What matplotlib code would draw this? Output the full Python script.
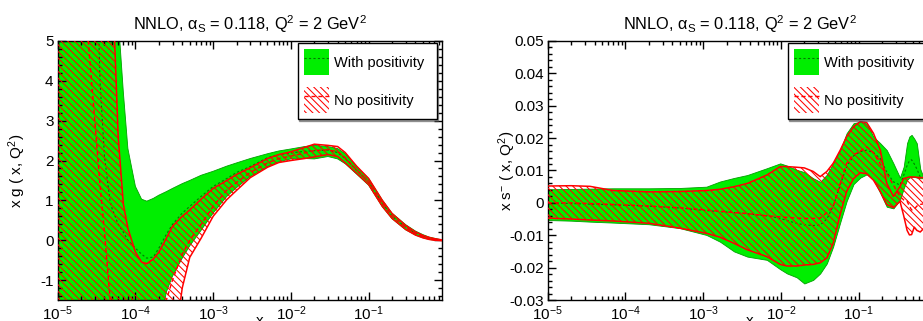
import numpy as np
import matplotlib
matplotlib.use('Agg')
import matplotlib.pyplot as plt
from matplotlib.patches import Patch
from matplotlib.lines import Line2D
from matplotlib.ticker import MultipleLocator, LogLocator, FuncFormatter, NullFormatter

plt.rcParams['font.family'] = ['Liberation Sans', 'DejaVu Sans']
plt.rcParams['mathtext.fontset'] = 'custom'
plt.rcParams['mathtext.rm'] = 'Liberation Sans'
plt.rcParams['mathtext.it'] = 'Liberation Sans:italic'
plt.rcParams['mathtext.bf'] = 'Liberation Sans:bold'
plt.rcParams['axes.unicode_minus'] = False
plt.rcParams['hatch.linewidth'] = 0.75

# --- datos: gluon x g(x, Q^2) ---
x_g = [1e-5, 2e-5, 2.5e-5, 3e-5, 3.5e-5, 4e-5, 4.7e-5, 5e-5, 6e-5, 7e-5, 8e-5,
       1e-4, 1.2e-4, 1.4e-4, 1.7e-4, 2e-4, 2.5e-4, 3e-4, 4e-4, 5e-4, 7e-4,
       1e-3, 1.5e-3, 2e-3, 3e-3, 5e-3, 7e-3, 1e-2, 1.5e-2, 2e-2, 3e-2, 4e-2,
       5e-2, 7e-2, 0.1, 0.15, 0.2, 0.3, 0.4, 0.5, 0.6, 0.7, 0.87]
g_pos_hi = [40, 35, 32, 28, 24, 20, 13, 10, 5.6, 3.7, 2.3,
            1.35, 1.03, 0.98, 1.05, 1.13, 1.22, 1.3, 1.42, 1.5, 1.63,
            1.73, 1.86, 1.94, 2.05, 2.17, 2.24, 2.29, 2.35, 2.38, 2.35, 2.3,
            2.17, 1.84, 1.55, 1.01, 0.68, 0.39, 0.23, 0.14, 0.08, 0.05, 0.01]
g_pos_lo = [-40, -40, -40, -40, -40, -40, -40, -40, -40, -40, -40,
            -40, -40, -40, -40, -2.3, -1.3, -0.9, -0.45, -0.14, 0.25,
            0.68, 1.1, 1.32, 1.6, 1.85, 1.97, 2.04, 2.05, 2.04, 2.1, 2.04,
            1.92, 1.66, 1.38, 0.84, 0.54, 0.26, 0.13, 0.06, 0.02, 0.0, -0.01]
g_pos_mid = [40, 30, 20, 9, 4.0, 2.1, 1.0, 0.8, 0.4, 0.2, 0.0,
             -0.2, -0.35, -0.45, -0.42, -0.2, 0.15, 0.4, 0.68, 0.85, 1.1,
             1.35, 1.55, 1.7, 1.85, 2.07, 2.15, 2.19, 2.23, 2.25, 2.26, 2.2,
             2.05, 1.76, 1.47, 0.93, 0.61, 0.32, 0.18, 0.1, 0.05, 0.025, 0.0]
g_nopos_hi = [40, 35, 32, 28, 24, 18, 10, 6.8, 2.6, 0.9, 0.3,
              -0.3, -0.55, -0.59, -0.47, -0.3, 0.05, 0.35, 0.6, 0.76, 1.03,
              1.3, 1.5, 1.65, 1.82, 2.05, 2.15, 2.22, 2.33, 2.41, 2.38, 2.35,
              2.2, 1.86, 1.55, 1.0, 0.67, 0.37, 0.21, 0.12, 0.07, 0.04, 0.01]
g_nopos_lo = [-40, -40, -40, -40, -40, -40, -40, -40, -40, -40, -40,
              -40, -40, -40, -40, -40, -40, -3.0, -1.2, -0.43, 0.05,
              0.6, 1.02, 1.25, 1.57, 1.83, 1.95, 2.0, 2.05, 2.09, 2.15, 2.1,
              1.94, 1.68, 1.4, 0.85, 0.55, 0.27, 0.13, 0.06, 0.02, 0.0, -0.01]
g_nopos_mid = [30, 7, 4.9, 3.0, 1.4, 0.2, -1.43, -2.0, -3.0, -3.5, -3.8,
               -4.0, -3.8, -3.4, -2.8, -2.2, -1.5, -1.0, -0.35, 0.0, 0.4,
               0.85, 1.26, 1.45, 1.7, 1.94, 2.05, 2.11, 2.19, 2.25, 2.27, 2.22,
               2.07, 1.77, 1.47, 0.92, 0.61, 0.32, 0.17, 0.09, 0.045, 0.02, 0.0]

# --- datos: x s^-(x, Q^2) ---
x_s = [1e-5, 2e-5, 3.5e-5, 7e-5, 2e-4, 5e-4, 1.1e-3, 1.65e-3, 2.5e-3, 3.7e-3,
       6.6e-3, 9.8e-3, 1.2e-2, 1.6e-2, 2e-2, 2.6e-2, 3.2e-2, 3.9e-2, 4.7e-2,
       5.8e-2, 7e-2, 8.6e-2, 0.105, 0.127, 0.155, 0.19, 0.23, 0.28, 0.34,
       0.38, 0.42, 0.45, 0.48, 0.52, 0.56, 0.62, 0.68, 0.78, 0.87]
s_pos_hi = [0.0042, 0.0043, 0.0044, 0.0045, 0.0045, 0.0046, 0.005, 0.0066, 0.0077, 0.0086,
            0.0107, 0.0122, 0.0115, 0.0102, 0.0095, 0.0076, 0.0065, 0.0087, 0.0122,
            0.0163, 0.0215, 0.0246, 0.025, 0.0245, 0.0204, 0.0184, 0.0163, 0.0122, 0.0078,
            0.0112, 0.0185, 0.0205, 0.021, 0.0198, 0.0184, 0.0105, 0.008, 0.006, 0.004]
s_pos_lo = [-0.0053, -0.0055, -0.0058, -0.0061, -0.0066, -0.0078, -0.0099, -0.012, -0.015, -0.0166,
            -0.0176, -0.0205, -0.0218, -0.023, -0.0249, -0.0238, -0.0218, -0.0187, -0.0135,
            -0.006, 0.0005, 0.0058, 0.0078, 0.0088, 0.0072, 0.003, -0.0012, -0.0017, 0.0009,
            0.0045, 0.0071, 0.0078, 0.008, 0.008, 0.0078, 0.0076, 0.0076, 0.005, 0.003]
s_pos_mid = [0.0, -0.0002, -0.0004, -0.0006, -0.001, -0.0016, -0.0024, -0.0027, -0.003, -0.0034,
             -0.004, -0.0048, -0.0055, -0.0063, -0.0068, -0.007, -0.0068, -0.005, -0.001,
             0.0055, 0.0112, 0.0145, 0.0158, 0.0163, 0.0155, 0.0137, 0.0095, 0.0065, 0.0055,
             0.0085, 0.0115, 0.013, 0.0133, 0.012, 0.0105, 0.008, 0.0078, 0.0055, 0.0035]
s_nopos_hi = [0.0052, 0.0053, 0.0051, 0.0038, 0.0034, 0.0035, 0.0038, 0.0042, 0.005, 0.006,
              0.0086, 0.0112, 0.0112, 0.011, 0.0108, 0.0097, 0.0081, 0.0097, 0.0122,
              0.0163, 0.0204, 0.0235, 0.0251, 0.0248, 0.0215, 0.0163, 0.006, 0.002, 0.005,
              0.0075, 0.0078, 0.008, 0.008, 0.008, 0.0079, 0.0078, 0.0078, 0.006, 0.004]
s_nopos_lo = [-0.0047, -0.005, -0.0053, -0.0056, -0.0063, -0.0078, -0.0094, -0.0106, -0.0125, -0.0145,
              -0.0166, -0.019, -0.0195, -0.0195, -0.0192, -0.019, -0.0185, -0.017, -0.0125,
              -0.0035, 0.0035, 0.0075, 0.0093, 0.009, 0.007, 0.0035, -0.0005, -0.0015, 0.0005,
              -0.004, -0.0085, -0.0099, -0.0098, -0.0075, -0.0085, -0.009, -0.008, -0.006, -0.004]
s_nopos_mid = [0.0, 0.0, -0.0002, -0.0005, -0.001, -0.0015, -0.0022, -0.0026, -0.003, -0.0033,
               -0.004, -0.0043, -0.0045, -0.0047, -0.0048, -0.0048, -0.0047, -0.003, -0.0012,
               0.006, 0.0122, 0.0148, 0.016, 0.0173, 0.0155, 0.012, 0.0091, 0.0055, 0.002,
               0.0009, 0.0005, -0.001, -0.0022, -0.002, -0.001, -0.0005, -0.0003, 0.0, 0.0]

titulo = r'NNLO, α$_{\mathrm{S}}$ = 0.118, Q$^2$ = 2 GeV$^2$'
etiquetas = ['With positivity', 'No positivity']

VERDE = '#00ee00'
VERDE_OSC = '#007a00'
ROJO = '#ff0000'
RAYADO = '\\' * 5


def dibujar(ax, x, pos_lo, pos_hi, pos_mid, np_lo, np_hi, np_mid):
    # banda verde (con positividad) y banda rayada roja (sin positividad)
    ax.fill_between(x, pos_lo, pos_hi, facecolor=VERDE, edgecolor='#00a000', lw=0.6, zorder=1)
    ax.plot(x, pos_mid, color=VERDE_OSC, ls=(0, (2, 2)), lw=0.8, zorder=2)
    ax.fill_between(x, np_lo, np_hi, facecolor='none', edgecolor=ROJO, lw=0, hatch=RAYADO, zorder=3)
    ax.plot(x, np_hi, color=ROJO, lw=1.1, zorder=4)
    ax.plot(x, np_lo, color=ROJO, lw=1.1, zorder=4)
    ax.plot(x, np_mid, color=ROJO, ls=(0, (3, 2)), lw=1.0, zorder=4)


def estilo(ax, ymin, ymax, paso, paso_menor):
    ax.set_xscale('log')
    ax.set_xlim(1e-5, 0.87)
    ax.set_ylim(ymin, ymax)
    ax.xaxis.set_major_locator(LogLocator(base=10, numticks=10))
    ax.xaxis.set_minor_locator(LogLocator(base=10, subs=np.arange(2, 10), numticks=20))
    ax.xaxis.set_minor_formatter(NullFormatter())
    ax.yaxis.set_major_locator(MultipleLocator(paso))
    ax.yaxis.set_minor_locator(MultipleLocator(paso_menor))
    ax.yaxis.set_major_formatter(FuncFormatter(lambda v, p: '%g' % round(v, 4)))
    ax.tick_params(which='both', direction='in', top=True, right=True, width=1.0, labelsize=11)
    ax.tick_params(which='major', length=5.5, pad=3)
    ax.tick_params(which='minor', length=2.8)
    for s in ax.spines.values():
        s.set_linewidth(1.0)
    ax.set_title(titulo, fontsize=11.8, pad=8)
    ax.set_xlabel('x', fontsize=11)
    ax.xaxis.set_label_coords(0.527, -0.055)
    ax.yaxis.set_label_coords(-0.078, 0.5)

    h1 = (Patch(facecolor=VERDE, edgecolor='none'),
          Line2D([], [], color=VERDE_OSC, ls=(0, (2, 2)), lw=0.8))
    h2 = (Patch(facecolor='none', edgecolor=ROJO, lw=0, hatch=RAYADO),
          Line2D([], [], color=ROJO, ls=(0, (3, 2)), lw=1.0))
    leg = ax.legend([h1, h2], etiquetas, loc='upper left',
                    bbox_to_anchor=(0.625, 0.691, 0.362, 0.3), mode='expand',
                    borderaxespad=0, frameon=True, fancybox=False, edgecolor='black',
                    framealpha=1, handlelength=1.75, handleheight=2.4, labelspacing=0.8,
                    handletextpad=0.35, borderpad=0.4, fontsize=10.5,
                    shadow={'ox': 1.2, 'oy': -1.2})
    leg.get_frame().set_linewidth(1.0)
    leg.set_zorder(10)


fig = plt.figure(figsize=(9.23, 3.21), dpi=100)
ax1 = fig.add_axes([0.0625, 0.0654, 0.416, 0.807])
ax2 = fig.add_axes([0.5934, 0.0654, 0.416, 0.807])

dibujar(ax1, x_g, g_pos_lo, g_pos_hi, g_pos_mid, g_nopos_lo, g_nopos_hi, g_nopos_mid)
estilo(ax1, -1.5, 5, 1, 0.2)
ax1.set_ylabel('x g ( x, Q$^2$)', fontsize=11)

dibujar(ax2, x_s, s_pos_lo, s_pos_hi, s_pos_mid, s_nopos_lo, s_nopos_hi, s_nopos_mid)
estilo(ax2, -0.03, 0.05, 0.01, 0.002)
ax2.set_ylabel('x s$^{-}$ ( x, Q$^2$)', fontsize=11)

fig.savefig('out.png', dpi=100)
